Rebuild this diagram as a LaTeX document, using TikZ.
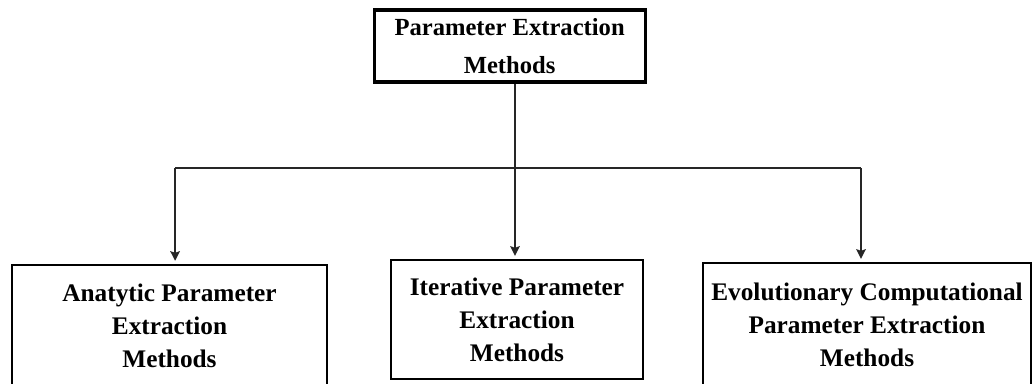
\documentclass[tikz,border=0pt]{standalone}
\usepackage{fontspec}
\setmainfont{Liberation Serif}
\usetikzlibrary{arrows,arrows.meta,positioning}

\tikzset{
  methodbox/.style={draw, line width=0.05cm, inner sep=0pt, align=center,
    font=\fontsize{18}{23.5}\selectfont\bfseries},
  link/.style={line width=0.045cm, black!85},
  tip/.style={-{Stealth[length=0.24cm, width=0.24cm, inset=0.04cm]}, shorten >=0.08cm},
}

\begin{document}
\begin{tikzpicture}
    \useasboundingbox (0,0) rectangle (25.825,-9.575);
    \clip (0,0) rectangle (25.825,-9.575);
        \node [methodbox, line width=0.08cm, minimum width=6.775cm, minimum height=1.8cm,
            font=\fontsize{17.5}{27}\selectfont\bfseries] (root) at (12.74,-1.15) {Parameter Extraction\\Methods};
        \node [methodbox, minimum width=7.875cm, minimum height=3.025cm] (analytic) at (4.2375,-8.1375) {Anatytic Parameter\\Extraction\\Methods};
        \node [methodbox, minimum width=6.3cm, minimum height=2.975cm] (iterative) at (12.925,-7.9875) {Iterative Parameter\\Extraction\\Methods};
        \node [methodbox, minimum width=8.2cm, minimum height=3.075cm] (evolution) at (21.675,-8.1125) {Evolutionary Computational\\Parameter Extraction\\Methods};
        \coordinate (split) at (12.875,-4.2);
    % trunk and branch
        \draw [link] (root.south -| split) -- (split);
        \draw [link, line width=0.065cm] ([xshift=0.14cm]analytic.north |- split) -- ([xshift=-0.15cm]evolution.north |- split);
    % arrows to the three methods
        \draw [tip, link] ([xshift=0.14cm]analytic.north |- split) -- ([xshift=0.14cm]analytic.north);
        \draw [tip, link] (split) -- (split |- iterative.north);
        \draw [tip, link] ([xshift=-0.15cm]evolution.north |- split) -- ([xshift=-0.15cm]evolution.north);
\end{tikzpicture}
\end{document}
